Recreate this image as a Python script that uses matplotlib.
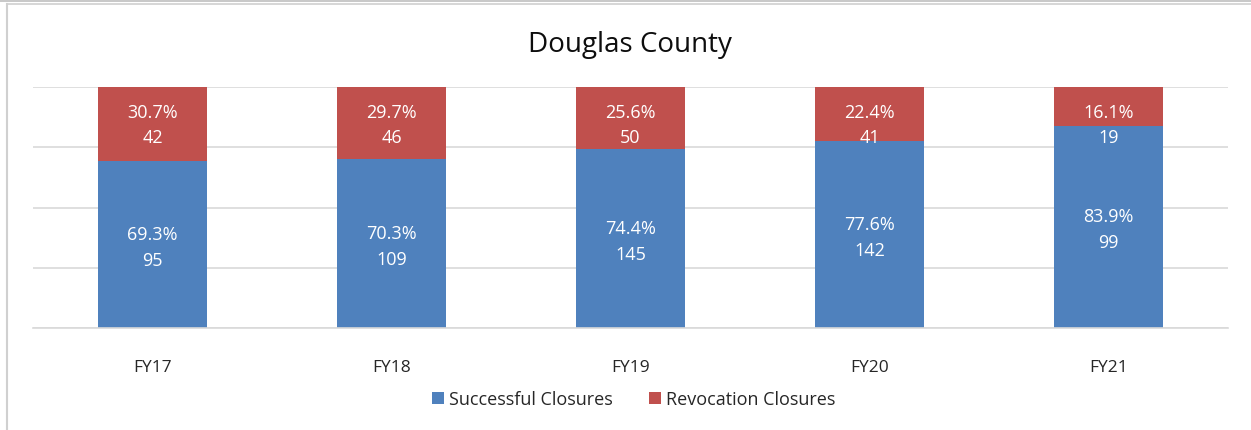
import matplotlib.pyplot as plt
from matplotlib.lines import Line2D

years = ["FY17", "FY18", "FY19", "FY20", "FY21"]
successful = [95, 109, 145, 142, 99]
revocation = [42, 46, 50, 41, 19]
successful_pct = [69.3, 70.3, 74.4, 77.6, 83.9]
revocation_pct = [30.7, 29.7, 25.6, 22.4, 16.1]

BLUE = "#4F81BD"
RED = "#C0504D"

plt.rcParams['font.family'] = ['Open Sans', 'DejaVu Sans']

fig = plt.figure(figsize=(12.51, 4.31), dpi=100)
ax = fig.add_axes([33 / 1251, 1 - 329 / 431, (1228 - 33) / 1251, (329 - 88) / 431])

x = range(len(years))
ax.bar(x, successful_pct, width=0.46, color=BLUE, label="Successful Closures", zorder=2)
ax.bar(x, revocation_pct, width=0.46, bottom=successful_pct, color=RED,
       label="Revocation Closures", zorder=2)

for i in x:
    # successful label, centred in its segment
    ax.text(i, successful_pct[i] / 2 - 1, f"{successful_pct[i]:.1f}%\n{successful[i]}",
            ha="center", va="center", color="white", fontsize=13, linespacing=1.55, zorder=3)
    # revocation label: centred, but kept inside the plot area like Excel does
    yc = min(successful_pct[i] + revocation_pct[i] / 2, 84.5)
    ax.text(i, yc, f"{revocation_pct[i]:.1f}%\n{revocation[i]}",
            ha="center", va="center", color="white", fontsize=13, linespacing=1.55, zorder=3)

ax.set_xlim(-0.5, 4.5)
ax.set_ylim(0, 100)
ax.set_yticks([0, 25, 50, 75, 100])
ax.set_yticklabels([])
ax.tick_params(axis="y", length=0)
ax.tick_params(axis="x", length=0, pad=22, labelsize=12.5, labelcolor="#262626")
ax.set_xticks(list(x))
ax.set_xticklabels(years)
ax.grid(axis="y", color="#D9D9D9", linewidth=1.2, zorder=0)
for s in ["top", "right", "left"]:
    ax.spines[s].set_visible(False)
ax.spines["bottom"].set_color("#D9D9D9")
ax.spines["bottom"].set_linewidth(1.2)

fig.text(630 / 1251, 1 - 45 / 431, "Douglas County", ha="center", va="center",
         fontsize=20, color="#0D0D0D")

handles, labels = ax.get_legend_handles_labels()
fig.legend(handles, labels, loc="center", bbox_to_anchor=(634 / 1251, 1 - 400 / 431),
           ncol=2, frameon=False, fontsize=13, handlelength=0.65, handleheight=0.65,
           handletextpad=0.3, columnspacing=2.0, labelcolor="#262626")

# chart frame remnants
fig.add_artist(Line2D([0, 1], [1 - 1.5 / 431] * 2, color="#BFBFBF", linewidth=1.2))
fig.add_artist(Line2D([7 / 1251, 1], [1 - 4.5 / 431] * 2, color="#D0D0D0", linewidth=1.2))
fig.add_artist(Line2D([7 / 1251] * 2, [0, 1 - 4.5 / 431], color="#D0D0D0", linewidth=1.5))

fig.savefig("out.png", dpi=100)
